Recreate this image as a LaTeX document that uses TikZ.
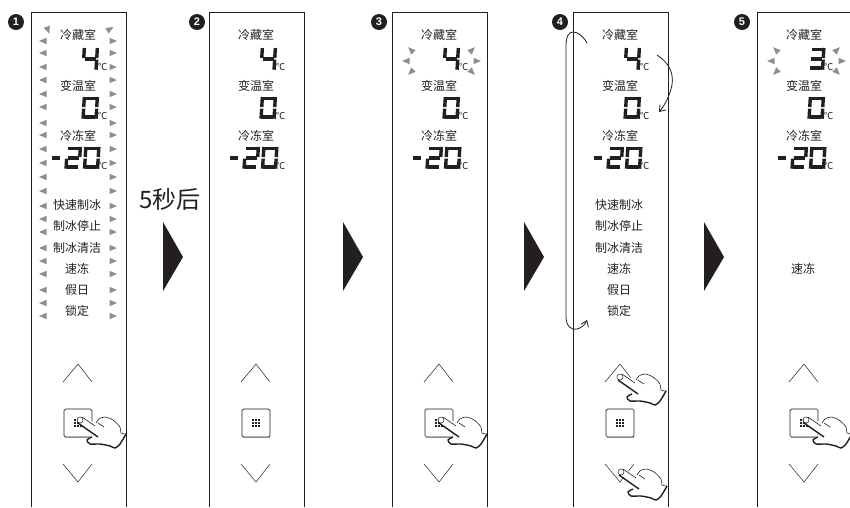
\documentclass[tikz,border=0pt]{standalone}
\usepackage{fontspec}
\usetikzlibrary{arrows.meta}
\setmainfont{Liberation Sans}
\newfontfamily\cjk{Noto Sans CJK SC}
\definecolor{ink}{HTML}{231F20}
\definecolor{tricol}{HTML}{8E8E8E}
\tikzset{
  panelline/.style={draw=ink,line width=0.9pt},
  lbl/.style={inner sep=0pt,text=ink,font=\cjk\fontsize{12}{14}\selectfont},
  degree/.style={inner sep=0pt,text=ink,font=\cjk\fontsize{9.5}{10}\selectfont},
  lcdseg/.style={draw=ink,line width=3.4pt,shorten <=0.8pt,shorten >=0.8pt},
  tribit/.style={fill=tricol},
  bullet/.style={circle,fill=ink,text=white,inner sep=0pt,minimum size=16pt,font=\bfseries\fontsize{11}{11}\selectfont},
  chevron/.style={draw=ink,line width=0.5pt},
  keybox/.style={draw=ink,line width=0.7pt,rounded corners=1.5pt,fill=white},
  bigtri/.style={fill=ink},
  curl/.style={draw=ink,line width=0.8pt,-{Straight Barb[length=5.5pt,width=8pt]}},
}
% one grey triangle: x, y, direction
\newcommand{\tribit}[3]{\fill[tribit,shift={(#1,#2)},rotate=#3] (-3.5,-3.2) -- (4,0) -- (-3.5,3.2) -- cycle;}
% one lcd digit: x, y, list of segments
\newcommand{\lcd}[3]{
  \begin{scope}[shift={(#1,#2)}]
    \coordinate (ul) at (1.4,-0.8);
    \coordinate (ur) at (14.4,-0.8);
    \coordinate (tl) at (1.4,1.7);
    \coordinate (tr) at (14.4,1.7);
    \coordinate (ml) at (0.7,10.8);
    \coordinate (mr) at (13.7,10.8);
    \coordinate (bl) at (0,20);
    \coordinate (br) at (13,20);
    \coordinate (ll) at (0,22.5);
    \coordinate (lr) at (13,22.5);
    \foreach \a/\b in {#3}
      \draw[lcdseg] (\a) -- (\b);
  \end{scope}
}
\newcommand{\handshape}[2]{
  \begin{scope}[shift={(#1,#2)}]
    \fill[white] (-3,0) -- (2,-3) -- (16,3) -- (25,-4) -- (40,7) -- (46,14) -- (37,27) -- (10,25) -- (7,20) -- (12,15) -- cycle;
    \draw[ink,line width=0.5pt] (0,0) circle (3);
    \draw[ink,line width=0.6pt] (2,-3) -- (15,6);
    \draw[ink,line width=0.6pt] plot[smooth] coordinates {(16,3) (19,-1) (25,-3) (33,0) (40,7) (41,13) (46,14)};
    \draw[ink,line width=0.6pt] (18,3) -- (24,7);
    \draw[ink,line width=1.4pt] (-2,3) -- (18,17);
    \draw[ink,line width=1.4pt] plot[smooth] coordinates {(46,14) (40,24) (35,28) (30,26) (20,24) (10,24) (7,20) (12,17)};
  \end{scope}
}
\begin{document}
\begin{tikzpicture}[x=1pt,y=-1pt]
  \useasboundingbox (0,0) rectangle (850,507);

  % the five panels
  \foreach \n/\dx/\bx/\hot in {1/31/16/4,2/209/197/4,3/392/379/4,4/573/560/4,5/757/742/3}{
    \node[bullet] (num\n) at (\bx,22) {\n};
    \begin{scope}[shift={(\dx,0)}]
      \draw[panelline] (0,507) -- (0,12) -- (95,12) -- (95,507);

      \node[lbl] (cold\n) at (47,35) {冷藏室};
      \node[lbl] (vari\n) at (47,86) {变温室};
      \node[lbl] (frez\n) at (47,136) {冷冻室};

      \node[degree] (degc\n) at (71.5,66.5) {℃};
      \node[degree] (degv\n) at (71.5,115.5) {℃};
      \node[degree] (degf\n) at (71.5,165.5) {℃};

      \ifnum\hot=4
        \lcd{52}{48}{ul/ml,ml/mr,ur/mr,mr/lr}
      \else
        \lcd{52.5}{48}{tl/tr,ur/mr,ml/mr,mr/lr,bl/br}
      \fi
      \lcd{52}{97}{tl/tr,ur/mr,mr/lr,bl/br,ml/ll,ul/ml}
      \lcd{35}{147}{tl/tr,ur/mr,ml/mr,ml/ll,bl/br}
      \lcd{53.5}{147}{tl/tr,ur/mr,mr/lr,bl/br,ml/ll,ul/ml}
      \draw[lcdseg,shorten <=0pt,shorten >=0pt] (21,158) -- (29,158);

      % keys
      \draw[chevron] (32,382) -- (47,364) -- (61,382);
      \draw[chevron] (32,464) -- (47,482) -- (61,464);
      \node[keybox,minimum width=28pt,minimum height=28pt] (key\n) at (47,423) {};
      \draw[tricol,line width=0.8pt] (33.5,437.5) -- (60.5,437.5);
      \foreach \i in {-3,0,3}
        \foreach \j in {-3,0,3}
          \fill[ink] (47+\i-1.2,423+\j-1.2) rectangle (47+\i+1.2,423+\j+1.2);
    \end{scope}
  }

  % triangles all round panel 1
  \foreach \y in {41,53,67,80,94,107,123,135,149,163,177,191,206,219,232,248,261,274,290,303,316}{
    \tribit{43}{\y}{180}
    \tribit{113}{\y}{0}
  }
  \tribit{48}{30}{-70}
  \tribit{110}{29}{30}

  % triangles round the blinking digit
  \foreach \dx in {392,757}{
    \tribit{\dx+19}{50}{135}
    \tribit{\dx+14}{61}{180}
    \tribit{\dx+19}{72}{225}
    \tribit{\dx+80}{50}{45}
    \tribit{\dx+85}{61}{0}
    \tribit{\dx+80}{72}{-45}
  }

  % function list, panels 1 and 4
  \foreach \dx/\n in {31/1,573/4}{
    \node[lbl] (fast\n) at (\dx+46,205) {快速制冰};
    \node[lbl] (stop\n) at (\dx+46,226) {制冰停止};
    \node[lbl] (wash\n) at (\dx+46,248) {制冰清洁};
    \node[lbl] (quik\n) at (\dx+46,269) {速冻};
    \node[lbl] (hold\n) at (\dx+46,290) {假日};
    \node[lbl] (lock\n) at (\dx+46,311) {锁定};
  }
  \node[lbl] (quik5) at (803,269) {速冻};

  % big arrows
  \node[inner sep=0pt,text=ink,font=\cjk\fontsize{24}{24}\selectfont] (wait) at (170,199) {5秒后};
  \foreach \x in {163,343,524,704}
    \fill[bigtri] (\x,222) -- (\x+20,257) -- (\x,291) -- cycle;

  % curved arrows of panel 4
  \coordinate (loopa) at (587,43);
  \coordinate (loopb) at (587,320);
  \coordinate (stepa) at (657,55);
  \coordinate (stepb) at (659,112);
  \draw[curl] (loopa) .. controls (583,36) and (578,32) .. (573,32) .. controls (569,32) and (566,36) .. (566,46) -- (566,317) .. controls (566,326) and (572,331) .. (577,329) .. controls (581,328) and (585,325) .. (loopb);
  \draw[curl] (stepa) .. controls (668,62) and (674,72) .. (672,85) .. controls (670,95) and (665,105) .. (stepb);

  % hands
  \handshape{80}{420}
  \handshape{441}{420}
  \handshape{806}{420}
  \handshape{620}{377}
  \handshape{621}{472}
\end{tikzpicture}
\end{document}
